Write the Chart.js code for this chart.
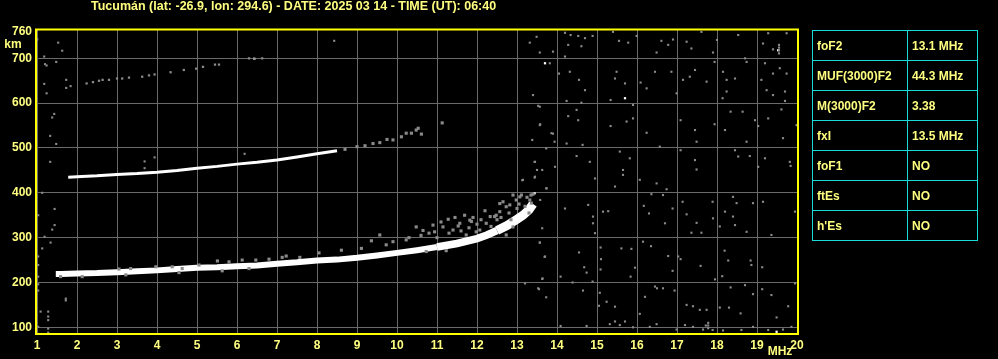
<!DOCTYPE html>
<html>
<head>
<meta charset="utf-8">
<script src="https://cdn.jsdelivr.net/npm/chart.js@4.4.0/dist/chart.umd.min.js"></script>
<style>
  html, body { margin: 0; padding: 0; background: #000; }
  #wrap { position: relative; width: 998px; height: 359px; overflow: hidden; }
  #params {
    position: absolute; left: 812px; top: 30px;
    border-collapse: collapse;
    font: bold 12px "Liberation Sans", Arial, sans-serif; color: #ffff80;
  }
  #params td { border: 1px solid #19d9d9; height: 29px; padding: 0 0 0 4px; }
  #params td:first-child { width: 90px; }
  #params td:last-child { width: 65px; }
</style>
</head>
<body>
<div id="wrap">
  <canvas id="myChart" width="998" height="359"></canvas>
  <table id="params"></table>
</div>
<script>
const titleText = 'Tucumán (lat: -26.9, lon: 294.6) - DATE: 2025 03 14 - TIME (UT): 06:40'

// parametros (tabela da direita)
const paramNames = ['foF2', 'MUF(3000)F2', 'M(3000)F2', 'fxI', 'foF1', 'ftEs', "h'Es"]
const paramValues = ['13.1 MHz', '44.3 MHz', '3.38', '13.5 MHz', 'NO', 'NO', 'NO']

// eixos
const freqTicks = [1, 2, 3, 4, 5, 6, 7, 8, 9, 10, 11, 12, 13, 14, 15, 16, 17, 18, 19, 20]
const heightTicks = [100, 200, 300, 400, 500, 600, 700, 760]

// traco F (primeiro salto)
const fTraceFreq = [1.47, 1.6, 2, 2.5, 3, 3.5, 4, 4.5, 5, 5.5, 6, 6.5, 7, 7.5, 8, 8.5, 9, 9.5, 10, 10.5, 11, 11.5, 12, 12.25, 12.5, 12.75, 13, 13.15, 13.3, 13.4]
const fTraceHeight = [219, 219, 220, 221, 223, 225, 227, 230, 233, 234, 236, 238, 242, 245, 249, 251, 255, 260, 266, 272, 279, 287, 298, 306, 316, 327, 341, 350, 362, 375]

// segundo salto
const hop2Freq = [1.78, 2, 2.5, 3, 3.5, 4, 4.5, 5, 5.5, 6, 6.5, 7, 7.5, 8, 8.5]
const hop2Height = [435, 436, 438, 441, 443, 446, 450, 455, 459, 464, 468, 473, 480, 487, 494]
const hop2Tail = [[8.7, 497], [9, 503], [9.2, 505], [9.4, 510], [9.57, 512], [9.75, 519], [9.9, 518], [10.11, 525], [10.23, 533], [10.36, 533], [10.48, 540], [10.53, 544], [10.61, 531], [11.13, 556]]

// terceiro salto (fraco)
const hop3Points = [[2.24, 644], [2.4, 647], [2.55, 650], [2.64, 652], [2.8, 652], [3.0, 655], [3.13, 655], [3.3, 657], [3.63, 659], [3.8, 662], [3.94, 664], [4.34, 669], [4.67, 674], [4.98, 677], [5.15, 681], [5.45, 686], [5.55, 686], [6.3, 700], [6.43, 699], [6.63, 700]]

// ecos espalhados em volta do traco F
const echoPoints = [[1.59, 213], [2.13, 213], [3.05, 230], [3.22, 217], [3.34, 231], [3.97, 235], [4.38, 235], [4.55, 222], [4.63, 231], [5.05, 239], [5.51, 248], [5.63, 226], [5.8, 246], [6.13, 250], [6.3, 231], [6.47, 250], [6.8, 252], [7.13, 256], [7.23, 259], [7.57, 256], [8.05, 266], [8.61, 272], [9.11, 276], [9.36, 293], [9.57, 306], [9.73, 284], [9.9, 291], [10.23, 295], [10.48, 324], [10.65, 316], [10.73, 269], [10.9, 328], [10.94, 313], [11.15, 324], [11.23, 271], [11.28, 341], [11.4, 317], [11.53, 326], [11.57, 332], [11.69, 350], [11.73, 306], [11.82, 339], [11.86, 336], [11.98, 313], [12.07, 317], [12.23, 332], [12.33, 347], [12.44, 347], [12.48, 350], [12.57, 358], [12.57, 376], [12.73, 369], [12.73, 306], [12.82, 373], [12.9, 324], [12.9, 395], [12.98, 384], [13.07, 391], [13.11, 395], [13.32, 384], [13.36, 377], [13.4, 397],
  [10.3, 300], [10.6, 305], [10.8, 310], [11.0, 300], [11.1, 335], [11.3, 310], [11.45, 345], [11.6, 315], [11.8, 322], [11.9, 345], [12.0, 330], [12.1, 340], [12.2, 360], [12.35, 325], [12.5, 340], [12.6, 345], [12.65, 380], [12.8, 355], [12.85, 340], [13.0, 365], [13.05, 375], [13.2, 370], [13.25, 390], [13.3, 355], [13.35, 395]]

// ruido
const noisePoints = [
  [1.0, 743], [1.53, 735], [1.63, 717], [1.18, 704], [1.2, 687], [1.48, 692], [1.24, 684], [1.73, 652], [1.84, 638], [1.73, 634],
  [1.18, 643], [1.24, 622], [1.43, 576], [1.38, 568], [1.33, 527], [1.48, 509], [1.33, 469], [1.13, 400], [1.44, 364], [1.44, 328],
  [1.38, 318], [1.19, 302], [1.13, 276], [1.34, 289], [1.03, 258], [1.03, 239], [1.03, 213], [1.03, 196], [1.03, 350], [1.03, 182],
  [1.09, 135], [1.28, 135], [1.28, 124], [1.28, 116], [1.28, 97], [1.28, 88], [1.03, 101], [1.72, 164], [1.72, 160], [8.43, 739],
  [3.94, 479], [3.69, 470], [3.69, 455], [6.19, 487],
  [13.49, 748], [13.32, 735], [14.2, 757], [14.34, 752], [14.53, 750], [14.7, 745], [14.89, 750], [15.4, 759], [15.55, 739], [15.78, 735],
  [15.99, 750], [13.9, 715], [14.2, 704], [14.28, 730], [14.61, 727], [13.82, 689], [13.57, 713], [14.05, 666], [14.32, 670], [14.55, 652],
  [14.7, 629], [14.24, 605], [14.61, 601], [13.4, 618], [13.57, 592], [15.49, 670], [15.45, 655], [15.7, 644], [16.09, 646], [15.34, 607],
  [15.9, 596], [16.24, 633], [16.49, 713], [16.61, 739], [16.78, 730], [16.9, 742], [17.24, 737], [17.36, 722], [17.61, 759], [17.9, 713],
  [18.0, 741], [16.45, 670], [16.86, 670], [16.99, 622], [17.15, 652], [17.32, 659], [17.45, 674], [17.74, 648], [17.94, 692], [18.15, 670],
  [18.24, 652], [18.45, 655], [18.24, 626], [18.14, 611], [18.53, 752], [18.7, 700], [18.74, 692], [19.15, 733], [19.28, 756], [19.4, 720],
  [19.55, 730], [19.55, 724], [19.55, 718], [19.55, 711], [19.74, 756], [19.2, 689], [19.4, 666], [19.57, 678], [19.74, 666], [19.11, 652],
  [19.24, 629], [19.4, 618], [19.7, 626], [19.61, 586], [19.7, 605], [19.99, 551], [13.57, 551], [13.9, 532], [14.24, 510], [14.64, 507],
  [14.53, 562], [14.49, 585], [14.28, 571], [15.34, 549], [15.74, 559], [16.24, 534], [16.57, 503], [15.9, 566], [17.09, 562], [17.45, 540],
  [17.49, 514], [17.94, 553], [18.2, 540], [18.34, 581], [18.64, 581], [18.74, 514], [18.95, 562], [19.03, 549], [19.28, 566], [19.65, 522],
  [13.45, 469], [13.95, 458], [14.49, 482], [14.82, 469], [15.57, 492], [15.82, 477], [15.65, 451], [17.09, 495], [17.45, 473], [17.49, 452],
  [18.45, 495], [18.53, 481], [18.82, 482], [19.2, 477], [19.03, 458], [19.82, 469], [19.84, 460],
  [13.53, 594], [13.58, 553], [13.86, 533], [13.38, 518], [13.94, 514], [13.73, 499], [13.44, 469], [13.5, 451], [13.63, 451], [13.44, 434],
  [13.13, 428], [13.73, 410], [13.58, 384], [13.63, 321], [13.57, 289], [13.69, 257], [13.63, 208], [13.55, 185], [13.73, 167],
  [13.45, 436], [13.15, 429], [13.74, 410], [14.2, 365], [14.78, 373], [14.95, 432], [15.15, 358], [15.28, 359], [14.9, 347], [14.9, 332],
  [14.95, 310], [15.65, 440], [15.45, 414], [16.07, 429], [16.49, 421], [16.74, 408], [16.36, 397], [16.65, 395], [16.17, 371], [16.3, 354],
  [16.7, 332], [16.89, 365], [17.14, 380], [17.24, 352], [17.36, 311], [17.61, 311], [17.49, 333], [17.89, 380], [17.9, 343], [18.07, 325],
  [18.2, 358], [18.4, 391], [18.4, 347], [18.45, 328], [18.49, 377], [18.74, 313], [18.9, 377], [19.15, 380], [19.36, 306], [19.95, 358],
  [13.57, 289], [13.7, 258], [13.64, 209], [14.55, 267], [14.68, 234], [14.74, 222], [14.89, 202], [15.09, 278], [15.1, 252], [15.09, 229],
  [15.61, 276], [15.86, 275], [15.95, 233], [15.84, 213], [16.35, 281], [16.15, 291], [16.78, 259], [16.89, 226], [17.03, 258], [17.09, 252],
  [17.59, 237], [17.95, 207], [18.13, 214], [18.19, 271], [18.28, 249], [18.84, 249], [18.86, 239], [19.13, 234],
  [13.2, 198], [13.53, 187], [14.09, 213], [14.39, 200], [14.65, 182], [15.07, 177], [15.24, 157], [15.45, 146], [15.05, 148], [16.07, 130],
  [16.2, 168], [16.45, 191], [16.5, 187], [16.65, 187], [16.94, 182], [17.24, 150], [17.4, 147], [17.57, 139], [17.74, 139], [17.78, 110],
  [17.78, 104], [17.78, 98], [17.72, 104], [18.07, 144], [18.3, 144], [18.34, 189], [18.59, 131], [18.7, 194], [18.9, 174], [19.13, 185],
  [19.36, 172], [19.49, 122], [19.78, 147], [19.95, 198],
  [14.09, 103], [14.74, 103], [15.32, 107], [15.45, 113], [15.57, 105], [15.7, 113], [15.9, 100], [16.32, 101], [16.49, 107], [16.99, 95],
  [17.2, 105], [17.4, 101], [17.65, 95], [17.89, 94], [18.15, 93], [18.61, 94], [18.9, 101], [19.28, 94], [19.65, 95], [19.86, 101]
]

// pontos brancos isolados
const whiteDots = [[1.0, 743], [6.43, 699], [13.7, 689], [15.7, 611], [19.53, 718], [19.49, 90], [13.44, 399]]

const yellow = '#ffff80'
const cinza = '#8a8a8a'
const fonte = { family: '"Liberation Sans", Arial, sans-serif', size: 12, weight: 'bold' }

// tabela
const tabela = document.getElementById('params')
paramNames.forEach((nome, i) => {
    let tr = document.createElement('tr')
    let a = document.createElement('td')
    a.textContent = nome
    let b = document.createElement('td')
    b.textContent = paramValues[i]
    tr.append(a, b)
    tabela.append(tr)
})

const pares = (fs, hs) => fs.map((f, i) => ({ x: f, y: hs[i] }))
const pts = (lista) => lista.map(p => ({ x: p[0], y: p[1] }))

const moldura = {
    id: 'moldura',
    afterDatasetsDraw(chart) {
        const { ctx, chartArea: a } = chart
        ctx.save()
        ctx.strokeStyle = '#ffff00'
        ctx.lineWidth = 2
        ctx.strokeRect(a.left - 1, a.top - 0.5, a.right - a.left + 2, a.bottom - a.top + 1.5)
        ctx.fillStyle = yellow
        ctx.font = 'bold 12.5px "Liberation Sans", Arial, sans-serif'
        ctx.textBaseline = 'middle'
        ctx.textAlign = 'left'
        ctx.fillText(titleText, 91, 7)
        ctx.font = 'bold 12px "Liberation Sans", Arial, sans-serif'
        ctx.textAlign = 'center'
        ctx.fillText('km', 13, 45)
        ctx.fillText('MHz', 780, 352)
        ctx.restore()
    }
}

const ctx = document.getElementById('myChart')

const myChart = new Chart(ctx, {
    type: 'scatter',
    data: {
        datasets: [{
            data: pts(noisePoints),
            backgroundColor: cinza,
            pointStyle: 'rect',
            pointRadius: 1.5,
            borderWidth: 0,
        }, {
            data: pts(echoPoints),
            backgroundColor: cinza,
            pointStyle: 'rect',
            pointRadius: 2.2,
            borderWidth: 0,
        }, {
            data: pts(hop3Points),
            backgroundColor: cinza,
            pointStyle: 'rect',
            pointRadius: 1.6,
            borderWidth: 0,
        }, {
            data: pts(hop2Tail),
            backgroundColor: cinza,
            pointStyle: 'rect',
            pointRadius: 2.2,
            borderWidth: 0,
        }, {
            data: pares(hop2Freq, hop2Height),
            showLine: true,
            borderColor: '#ffffff',
            borderWidth: 3,
            pointRadius: 0,
        }, {
            data: pares(fTraceFreq, fTraceHeight),
            showLine: true,
            borderColor: '#ffffff',
            borderWidth: 6,
            pointRadius: 0,
            segment: {
                borderWidth: c => c.p0.parsed.x >= 12.5 ? 9 : (c.p0.parsed.x >= 11 ? 7.5 : 6)
            }
        }, {
            data: pts(whiteDots),
            backgroundColor: '#ffffff',
            pointStyle: 'rect',
            pointRadius: 1.6,
            borderWidth: 0,
        }]
    },
    options: {
        responsive: false,
        animation: false,
        devicePixelRatio: 1,
        layout: { padding: { top: 30, right: 201, left: 0, bottom: 0 } },
        plugins: {
            legend: { display: false },
            tooltip: { enabled: false },
        },
        scales: {
            x: {
                type: 'linear',
                min: 1,
                max: 20,
                afterBuildTicks: (s) => { s.ticks = freqTicks.map(v => ({ value: v })) },
                afterFit: (s) => { s.height = 26 },
                grid: { color: '#6a6a6a', lineWidth: 1, drawTicks: false },
                border: { display: false },
                ticks: { color: yellow, font: fonte, padding: 5, autoSkip: false, maxRotation: 0 },
            },
            y: {
                type: 'linear',
                min: 87.3,
                max: 763.2,
                afterBuildTicks: (s) => { s.ticks = heightTicks.map(v => ({ value: v })) },
                afterFit: (s) => { s.width = 37 },
                grid: {
                    color: (c) => c.tick && c.tick.value === 760 ? 'rgba(0,0,0,0)' : '#6a6a6a',
                    lineWidth: 1,
                    drawTicks: false
                },
                border: { display: false },
                ticks: { color: yellow, font: fonte, padding: 5 },
            },
        },
    },
    plugins: [moldura]
});
</script>
</body>
</html>
